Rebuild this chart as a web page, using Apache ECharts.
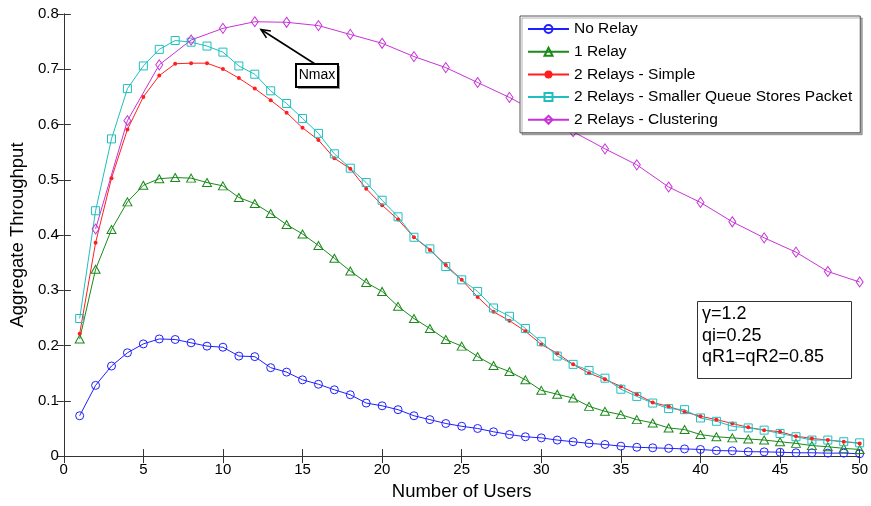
<!DOCTYPE html>
<html>
<head>
<meta charset="utf-8">
<script src="https://cdn.jsdelivr.net/npm/echarts@6/dist/echarts.min.js"></script>
<style>
  html, body { margin: 0; padding: 0; background: #fff; }
  #chart { width: 871px; height: 506px; }
</style>
</head>
<body>
<div id="chart"></div>
<script>
// Number of users (x axis)
const users = [1, 2, 3, 4, 5, 6, 7, 8, 9, 10, 11, 12, 13, 14, 15, 16, 17, 18, 19, 20,
  21, 22, 23, 24, 25, 26, 27, 28, 29, 30, 31, 32, 33, 34, 35, 36, 37, 38, 39, 40,
  41, 42, 43, 44, 45, 46, 47, 48, 49, 50];

// Clustering scheme is evaluated on even user counts only
const clusteringUsers = [2, 4, 6, 8, 10, 12, 14, 16, 18, 20, 22, 24, 26, 28, 30,
  32, 34, 36, 38, 40, 42, 44, 46, 48, 50];

const seriesNames = [
  'No Relay',
  '1 Relay',
  '2 Relays - Simple',
  '2 Relays - Smaller Queue Stores Packet',
  '2 Relays - Clustering'
];

const noRelay = [0.073, 0.128, 0.163, 0.187, 0.203, 0.212, 0.211, 0.205, 0.199, 0.197,
  0.181, 0.180, 0.160, 0.152, 0.138, 0.130, 0.120, 0.111, 0.096, 0.091,
  0.084, 0.073, 0.066, 0.059, 0.054, 0.050, 0.044, 0.039, 0.035, 0.033,
  0.029, 0.026, 0.023, 0.021, 0.018, 0.016, 0.015, 0.014, 0.013, 0.012,
  0.010, 0.0095, 0.008, 0.0077, 0.007, 0.006, 0.006, 0.0054, 0.0054, 0.0042];

const oneRelay = [0.212, 0.338, 0.410, 0.460, 0.490, 0.502, 0.504, 0.503, 0.495, 0.489,
  0.468, 0.457, 0.439, 0.419, 0.402, 0.381, 0.358, 0.335, 0.314, 0.298,
  0.271, 0.249, 0.231, 0.211, 0.199, 0.180, 0.164, 0.153, 0.138, 0.119,
  0.112, 0.105, 0.090, 0.081, 0.075, 0.066, 0.060, 0.051, 0.048, 0.039,
  0.035, 0.033, 0.031, 0.029, 0.026, 0.023, 0.019, 0.017, 0.014, 0.012];

const twoRelaysSimple = [0.2215, 0.386, 0.503, 0.591, 0.650, 0.6885, 0.710, 0.711, 0.711, 0.7005,
  0.684, 0.665, 0.644, 0.6215, 0.594, 0.572, 0.539, 0.520, 0.484, 0.454,
  0.428, 0.396, 0.373, 0.346, 0.319, 0.288, 0.261, 0.245, 0.226, 0.202,
  0.186, 0.166, 0.150, 0.139, 0.126, 0.112, 0.097, 0.090, 0.080, 0.072,
  0.066, 0.059, 0.052, 0.047, 0.044, 0.036, 0.032, 0.029, 0.026, 0.023];

const twoRelaysSmallerQueue = [0.249, 0.444, 0.574, 0.665, 0.706, 0.736, 0.752, 0.749, 0.742, 0.731,
  0.706, 0.691, 0.661, 0.638, 0.611, 0.584, 0.547, 0.521, 0.495, 0.463,
  0.433, 0.396, 0.375, 0.343, 0.319, 0.298, 0.268, 0.253, 0.231, 0.207,
  0.181, 0.166, 0.155, 0.141, 0.121, 0.108, 0.096, 0.086, 0.084, 0.069,
  0.063, 0.054, 0.051, 0.047, 0.041, 0.035, 0.029, 0.029, 0.026, 0.024];

const twoRelaysClustering = [0.411, 0.607, 0.708, 0.753, 0.774, 0.786, 0.785, 0.779, 0.763, 0.747,
  0.723, 0.703, 0.676, 0.649, 0.618, 0.587, 0.556, 0.527, 0.487, 0.459,
  0.424, 0.395, 0.369, 0.334, 0.315];

const xTicks = [0, 5, 10, 15, 20, 25, 30, 35, 40, 45, 50];
const yTicks = [0, 0.1, 0.2, 0.3, 0.4, 0.5, 0.6, 0.7, 0.8];

const paramLines = ['\u03b3=1.2', 'qi=0.25', 'qR1=qR2=0.85'];
const peakLabel = 'Nmax';

const FONT = 'Arial, "Liberation Sans", Helvetica, sans-serif';
const colors = ['#1f1fff', '#1a8a1a', '#ff1f1f', '#1fbfbf', '#c832d8'];

function pairs(xs, ys) {
  return xs.map((x, i) => [x, ys[i]]);
}

const chart = echarts.init(document.getElementById('chart'), null, { renderer: 'canvas' });

const hollow = (c) => ({ color: 'rgba(255,255,255,0)', borderColor: c, borderWidth: 1 });

function lineSeries(name, data, color, symbol, size, itemStyle) {
  return {
    name: name,
    type: 'line',
    data: data,
    symbol: symbol,
    symbolSize: size,
    showSymbol: true,
    lineStyle: { color: color, width: 1 },
    itemStyle: itemStyle,
    emphasis: { disabled: true },
    z: 3
  };
}

const frameAxis = {
  axisLine: { show: true, lineStyle: { color: '#333', width: 1 } },
  axisTick: { show: true, inside: true, length: 7, lineStyle: { color: '#333' } },
  splitLine: { show: false }
};

const option = {
  animation: false,
  backgroundColor: '#fff',
  grid: { left: 62, right: 10, top: 14, bottom: 47, containLabel: false },
  xAxis: [
    Object.assign({
      type: 'value', min: xTicks[0], max: xTicks[xTicks.length - 1],
      interval: xTicks[1] - xTicks[0], position: 'bottom',
      name: 'Number of Users', nameLocation: 'middle', nameGap: 22,
      nameTextStyle: { fontFamily: FONT, fontSize: 18.5, color: '#000' },
      axisLabel: { fontFamily: FONT, fontSize: 15, color: '#000', margin: 6 }
    }, frameAxis),
    Object.assign({
      type: 'value', min: xTicks[0], max: xTicks[xTicks.length - 1],
      interval: xTicks[1] - xTicks[0], position: 'top',
      axisLabel: { show: false }
    }, frameAxis)
  ],
  yAxis: [
    Object.assign({
      type: 'value', min: yTicks[0], max: yTicks[yTicks.length - 1],
      interval: 0.1, position: 'left',
      name: 'Aggregate Throughput', nameLocation: 'middle', nameGap: 34,
      nameTextStyle: { fontFamily: FONT, fontSize: 18.5, color: '#000' },
      axisLabel: {
        fontFamily: FONT, fontSize: 15, color: '#000', margin: 5,
        formatter: (v) => String(Math.round(v * 10) / 10)
      }
    }, frameAxis),
    Object.assign({
      type: 'value', min: yTicks[0], max: yTicks[yTicks.length - 1],
      interval: 0.1, position: 'right',
      axisLabel: { show: false }
    }, frameAxis)
  ],
  legend: {
    orient: 'vertical',
    left: 520, top: 16,
    padding: [5, 8, 5, 7],
    itemWidth: 41, itemHeight: 10, itemGap: 6.7,
    backgroundColor: '#fff',
    borderColor: '#555', borderWidth: 1,
    shadowColor: 'rgba(0,0,0,0.3)', shadowOffsetX: 2, shadowOffsetY: 2, shadowBlur: 0,
    selectedMode: false,
    textStyle: { fontFamily: FONT, fontSize: 15.5, color: '#000', lineHeight: 14, padding: [0, 0, 0, 0] },
    data: [
      { name: seriesNames[0] },
      { name: seriesNames[1], lineStyle: { width: 2 } },
      { name: seriesNames[2] },
      { name: seriesNames[3] },
      { name: seriesNames[4], lineStyle: { width: 2 } }
    ],
    z: 10
  },
  series: [
    lineSeries(seriesNames[0], pairs(users, noRelay), colors[0], 'circle', 8, hollow(colors[0])),
    lineSeries(seriesNames[1], pairs(users, oneRelay), colors[1], 'triangle', [9, 8], hollow(colors[1])),
    lineSeries(seriesNames[2], pairs(users, twoRelaysSimple), colors[2], 'circle', 4, { color: colors[2], borderWidth: 0 }),
    lineSeries(seriesNames[3], pairs(users, twoRelaysSmallerQueue), colors[3], 'rect', 8, hollow(colors[3])),
    lineSeries(seriesNames[4], pairs(clusteringUsers, twoRelaysClustering), colors[4], 'diamond', [7, 10], hollow(colors[4]))
  ]
};

chart.setOption(option);

// Annotations: peak pointer and parameter box
function drawAnnotations() {
  const tip = [261, 29.5];
  const tail = [315, 64];
  const dx = tail[0] - tip[0], dy = tail[1] - tip[1];
  const len = Math.sqrt(dx * dx + dy * dy);
  const ux = dx / len, uy = dy / len;
  const headLen = 10, spread = 0.42;
  const cs = Math.cos(spread), sn = Math.sin(spread);
  const h1 = [tip[0] + headLen * (ux * cs - uy * sn), tip[1] + headLen * (ux * sn + uy * cs)];
  const h2 = [tip[0] + headLen * (ux * cs + uy * sn), tip[1] + headLen * (-ux * sn + uy * cs)];

  const boxX = 697, boxY = 301, boxW = 154, boxH = 77;
  const paramText = paramLines.map((t, i) => ({
    type: 'text',
    left: 702, top: boxY + 4 + i * 21.7,
    style: { text: t, fontFamily: FONT, fontSize: 18, fill: '#000' },
    z: 21
  }));

  chart.setOption({
    graphic: [
      {
        type: 'polyline',
        shape: { points: [tail, tip] },
        style: { stroke: '#000', lineWidth: 1.6, fill: null },
        z: 20
      },
      {
        type: 'polyline',
        shape: { points: [h1, tip, h2] },
        style: { stroke: '#000', lineWidth: 1.6, fill: null },
        z: 20
      },
      {
        type: 'rect',
        shape: { x: 298, y: 66, width: 42, height: 23 },
        style: { fill: '#999', stroke: null },
        z: 20
      },
      {
        type: 'rect',
        shape: { x: 296, y: 64, width: 42, height: 23 },
        style: { fill: '#fff', stroke: '#000', lineWidth: 2 },
        z: 20
      },
      {
        type: 'text',
        x: 317, y: 75.5,
        style: { text: peakLabel, fontFamily: FONT, fontSize: 14, fill: '#000', align: 'center', verticalAlign: 'middle' },
        z: 21
      },
      {
        type: 'rect',
        shape: { x: boxX + 0.5, y: boxY + 0.5, width: boxW, height: boxH },
        style: { fill: '#fff', stroke: '#333', lineWidth: 1 },
        z: 20
      }
    ].concat(paramText)
  });
}
drawAnnotations();
</script>
</body>
</html>
